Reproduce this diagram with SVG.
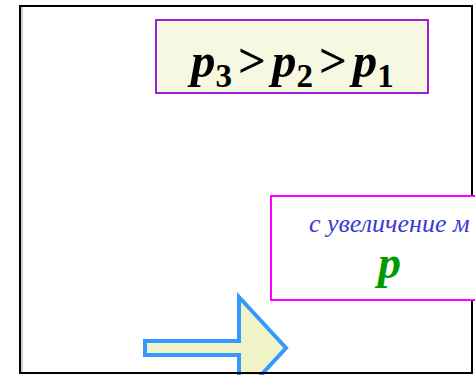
<svg xmlns="http://www.w3.org/2000/svg" width="475" height="375" viewBox="0 0 475 375">
<style>
.f{font-family:"Liberation Serif","Times New Roman",serif;}
.big{font-size:49px;font-weight:bold;font-style:italic;fill:#000;}
.sub{font-size:33px;font-weight:bold;font-style:normal;}
.op{font-style:normal;}
</style>
<rect x="0" y="0" width="475" height="375" fill="#fff"/>
<g id="arrow">
<path d="M145,341 L239,341 L239,297 L286,348 L239,399 L239,355 L145,355 Z" fill="#f0f4c8" stroke="#3399ff" stroke-width="4" stroke-linejoin="miter"/>
</g>
<g id="frame">
<rect x="20" y="6" width="452" height="367" fill="none" stroke="#000" stroke-width="2"/>
<line x1="22" y1="7" x2="22" y2="372" stroke="#999" stroke-width="1"/>
</g>
<g id="ineq">
<rect x="156" y="20" width="272" height="73" fill="#f7f8e1" stroke="#9e1fd6" stroke-width="2"/>
<text class="f big" x="191" y="77">p<tspan class="sub" dy="10">3</tspan><tspan class="op" dx="6" dy="-10">&gt;</tspan><tspan dx="6">p</tspan><tspan class="sub" dy="10">2</tspan><tspan class="op" dx="6" dy="-10">&gt;</tspan><tspan dx="6">p</tspan><tspan class="sub" dy="10">1</tspan></text>
</g>
<g id="note">
<rect x="271" y="196" width="214" height="104" fill="#fff" stroke="#ff00ff" stroke-width="2"/>
<text class="f" x="309" y="232" font-size="26" font-style="italic" fill="#3b3bd1">с увеличение м</text>
<text class="f" x="378" y="278" font-size="46" font-weight="bold" font-style="italic" fill="#009900">p</text>
</g>
</svg>
